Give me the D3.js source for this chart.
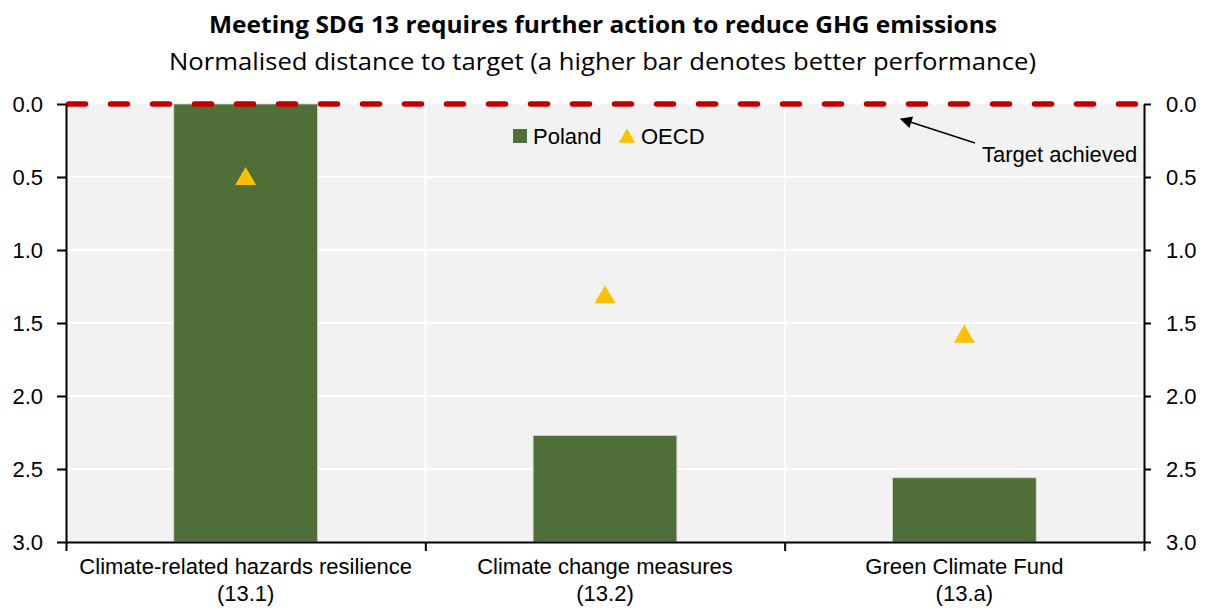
<!DOCTYPE html>
<html>
<head>
<meta charset="utf-8">
<script src="https://cdn.jsdelivr.net/npm/d3@7"></script>
<style>
  html, body { margin: 0; padding: 0; background: #ffffff; }
  svg { display: block; }
  text { font-family: "Liberation Sans", Arial, sans-serif; fill: #000; }
</style>
</head>
<body>
<svg id="chart" width="1205" height="610"></svg>
<script>
// ---- Data ----
const categories = ["Climate-related hazards resilience", "Climate change measures", "Green Climate Fund"];
const categoryCodes = ["(13.1)", "(13.2)", "(13.a)"];
const polandValues = [0.0, 2.27, 2.56];
const oecdValues = [0.50, 1.31, 1.58];
const yTicks = [0.0, 0.5, 1.0, 1.5, 2.0, 2.5, 3.0];
const targetValues = [0, 0];
const seriesNames = ["Poland", "OECD"];
const titleText = "Meeting SDG 13 requires further action to reduce GHG emissions";
const subtitleText = "Normalised distance to target (a higher bar denotes better performance)";
const annotationText = "Target achieved";

// ---- Layout ----
const W = 1205, H = 610;
const plot = { left: 66, right: 1144, top: 104, bottom: 542 };
const barColor = "#506e37";
const triColor = "#ffc000";
const targetColor = "#c00000";
const bgColor = "#f2f2f2";
const fontSize = 22;

const svg = d3.select("#chart");

const x = d3.scaleBand().domain(categories).range([plot.left, plot.right]).paddingInner(0).paddingOuter(0);
const y = d3.scaleLinear().domain([0, 3]).range([plot.top, plot.bottom]);
const yMax = 3;
const barFrac = 0.4;

// Titles
svg.append("text")
  .attr("x", W / 2 + 0.5).attr("y", 33)
  .attr("text-anchor", "middle")
  .style("font-family", "'Open Sans', 'Noto Sans', sans-serif")
  .style("font-weight", "bold").style("font-size", "24px")
  .attr("textLength", 788).attr("lengthAdjust", "spacingAndGlyphs")
  .text(titleText);
svg.append("text")
  .attr("x", W / 2).attr("y", 70)
  .attr("text-anchor", "middle")
  .style("font-family", "'Open Sans', 'Noto Sans', sans-serif")
  .style("font-size", "24px")
  .attr("textLength", 867).attr("lengthAdjust", "spacingAndGlyphs")
  .text(subtitleText);

// Plot background
svg.append("rect")
  .attr("x", plot.left).attr("y", plot.top)
  .attr("width", plot.right - plot.left).attr("height", plot.bottom - plot.top)
  .attr("fill", bgColor);

// Horizontal gridlines
svg.append("g").selectAll("line")
  .data(yTicks.filter(d => d > 0 && d < yMax))
  .join("line")
  .attr("x1", plot.left).attr("x2", plot.right)
  .attr("y1", d => y(d)).attr("y2", d => y(d))
  .attr("stroke", "#ffffff").attr("stroke-width", 2);

// Vertical gridlines at category boundaries
svg.append("g").selectAll("line")
  .data(categories.slice(1))
  .join("line")
  .attr("x1", d => x(d)).attr("x2", d => x(d))
  .attr("y1", plot.top).attr("y2", plot.bottom)
  .attr("stroke", "#ffffff").attr("stroke-width", 2);

// Bars (grow upward from bottom of reversed axis)
svg.append("g").selectAll("rect")
  .data(categories.map((c, i) => ({ c, v: polandValues[i] })))
  .join("rect")
  .attr("x", d => x(d.c) + x.bandwidth() * (1 - barFrac) / 2)
  .attr("width", x.bandwidth() * barFrac)
  .attr("y", d => y(d.v))
  .attr("height", d => y(yMax) - y(d.v))
  .attr("fill", barColor)
  .attr("stroke", "#d0d6c8").attr("stroke-width", 0.8);

// Target dashed line
const targetX = d3.scaleLinear().domain([0, 1]).range([plot.left + 2.5, plot.right]);
svg.append("path")
  .datum(targetValues)
  .attr("d", d3.line().x((d, i) => targetX(i)).y(d => y(d)))
  .attr("fill", "none")
  .attr("stroke", targetColor).attr("stroke-width", 5.5)
  .attr("stroke-linecap", "round")
  .attr("stroke-dasharray", "17 25");

// OECD triangles
const tri = d3.symbol().type(d3.symbolTriangle).size(190);
svg.append("g").selectAll("path")
  .data(categories.map((c, i) => ({ c, v: oecdValues[i] })))
  .join("path")
  .attr("d", tri)
  .attr("transform", d => `translate(${x(d.c) + x.bandwidth() / 2},${y(d.v) + 2})`)
  .attr("fill", triColor);

// Axes
const axisStyle = g => {
  g.selectAll("path.domain").attr("stroke", "#000").attr("stroke-width", 2);
  g.selectAll(".tick line").attr("stroke", "#000").attr("stroke-width", 2);
  g.selectAll(".tick text").style("font-family", "'Liberation Sans', Arial, sans-serif").style("font-size", fontSize + "px").attr("fill", "#000");
};
svg.append("g")
  .attr("transform", `translate(${plot.left},0)`)
  .call(d3.axisLeft(y).tickValues(yTicks).tickFormat(d3.format(".1f")).tickSizeInner(9).tickSizeOuter(0).tickPadding(14))
  .call(axisStyle);
svg.append("g")
  .attr("transform", `translate(${plot.right},0)`)
  .call(d3.axisRight(y).tickValues(yTicks).tickFormat(d3.format(".1f")).tickSizeInner(7).tickSizeOuter(0).tickPadding(15))
  .call(axisStyle);

// Bottom axis line and boundary ticks
const xBoundary = d3.scaleLinear().domain([0, categories.length]).range([plot.left, plot.right]);
svg.append("g")
  .attr("transform", `translate(0,${plot.bottom})`)
  .call(d3.axisBottom(xBoundary).tickValues(d3.range(categories.length + 1)).tickFormat("").tickSizeInner(9).tickSizeOuter(0))
  .call(axisStyle);

// Category labels
const labels = svg.append("g").selectAll("text")
  .data(categories.map((c, i) => ({ c, code: categoryCodes[i] })))
  .join("text")
  .attr("text-anchor", "middle")
  .style("font-size", fontSize + "px");
labels.append("tspan")
  .attr("x", d => x(d.c) + x.bandwidth() / 2).attr("y", 574)
  .text(d => d.c);
labels.append("tspan")
  .attr("x", d => x(d.c) + x.bandwidth() / 2).attr("y", 601)
  .text(d => d.code);

// Legend
const legend = svg.append("g");
legend.append("rect").attr("x", 513).attr("y", 129).attr("width", 14).attr("height", 14).attr("fill", barColor);
legend.append("text").attr("x", 533).attr("y", 143.5).style("font-size", fontSize + "px").text(seriesNames[0]);
legend.append("path")
  .attr("d", d3.symbol().type(d3.symbolTriangle).size(115))
  .attr("transform", "translate(627,138)")
  .attr("fill", triColor);
legend.append("text").attr("x", 641).attr("y", 143.5).style("font-size", fontSize + "px").text(seriesNames[1]);

// Annotation with arrow
svg.append("defs").append("marker")
  .attr("id", "arrow").attr("viewBox", "0 0 10 10")
  .attr("refX", 9).attr("refY", 5)
  .attr("markerWidth", 15).attr("markerHeight", 12)
  .attr("markerUnits", "userSpaceOnUse")
  .attr("orient", "auto")
  .append("path").attr("d", "M0,0 L10,5 L0,10 Z").attr("fill", "#000");
svg.append("line")
  .attr("x1", 975).attr("y1", 143).attr("x2", 901).attr("y2", 119)
  .attr("stroke", "#000").attr("stroke-width", 1.5)
  .attr("marker-end", "url(#arrow)");
svg.append("text")
  .attr("x", 982).attr("y", 162)
  .style("font-size", fontSize + "px")
  .text(annotationText);
</script>
</body>
</html>
